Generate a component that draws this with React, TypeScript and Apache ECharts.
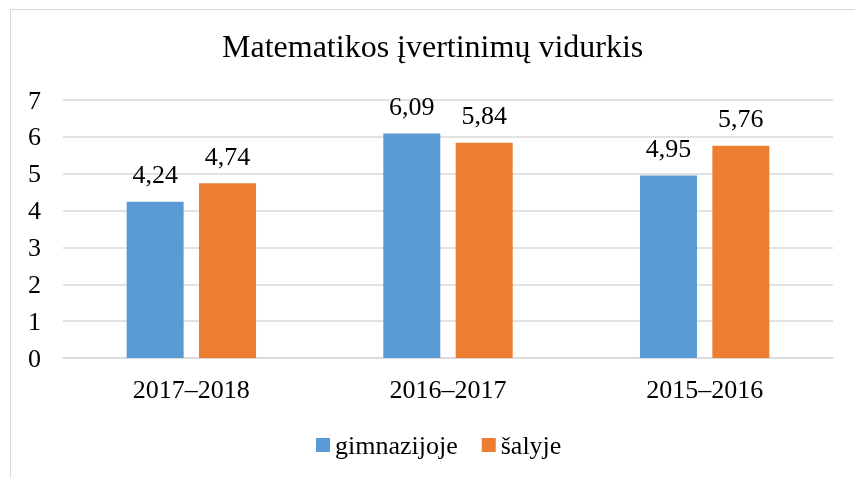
import React, { useEffect, useRef } from "react";
import * as echarts from "echarts";

const categories = ["2017–2018", "2016–2017", "2015–2016"];
const gimnazijoje = [4.24, 6.09, 4.95];
const salyje = [4.74, 5.84, 5.76];
const seriesNames = ["gimnazijoje", "šalyje"];
const titleText = "Matematikos įvertinimų vidurkis";

const FONT = "Liberation Serif";

export default function App() {
  const ref = useRef<HTMLDivElement>(null);
  useEffect(() => {
    if (!ref.current) return;
    const chart = echarts.init(ref.current, undefined, { renderer: "svg" });
    const fmt = (p: any) => Number(p.value).toFixed(2).replace(".", ",");
    const txt = { fontFamily: FONT, fontSize: 26, fontWeight: "normal", fontStyle: "normal", color: "#000" };
    chart.setOption({
      animation: false,
      textStyle: { fontFamily: FONT },
      title: {
        text: titleText,
        left: 222,
        top: 30,
        padding: 0,
        textStyle: { fontFamily: FONT, fontSize: 32, fontWeight: "normal", color: "#000" },
      },
      legend: {
        data: seriesNames,
        left: 316,
        top: 432,
        padding: 0,
        itemWidth: 14,
        itemHeight: 14,
        itemGap: 24,
        icon: "rect",
        textStyle: { ...txt },
      },
      grid: { left: 63, right: 22, top: 100, bottom: 120, containLabel: false },
      xAxis: {
        type: "category",
        data: categories,
        axisLine: { show: true, lineStyle: { color: "#d9d9d9", width: 1.5 } },
        axisTick: { show: false },
        axisLabel: { ...txt, margin: 18 },
      },
      yAxis: {
        type: "value",
        min: 0,
        max: 7,
        interval: 1,
        axisLine: { show: false },
        axisTick: { show: false },
        splitLine: { lineStyle: { color: "#d9d9d9", width: 1.5 } },
        axisLabel: { ...txt, margin: 22 },
      },
      series: [
        {
          name: seriesNames[0],
          type: "bar",
          data: gimnazijoje,
          barWidth: 57,
          barGap: "27%",
          itemStyle: { color: "#5B9BD5" },
          label: { show: true, position: "top", distance: 14, formatter: fmt, ...txt },
        },
        {
          name: seriesNames[1],
          type: "bar",
          data: salyje,
          barWidth: 57,
          barGap: "27%",
          itemStyle: { color: "#ED7D31" },
          label: { show: true, position: "top", distance: 14, formatter: fmt, ...txt },
        },
      ],
    });
    return () => chart.dispose();
  }, []);
  return (
    <div>
      <div
        style={{
          position: "fixed",
          left: 10,
          top: 9,
          width: 900,
          height: 500,
          borderLeft: "1.5px solid #d9d9d9",
          borderTop: "1.5px solid #d9d9d9",
        }}
      />
      <div ref={ref} style={{ position: "fixed", left: 0, top: 0, width: 855, height: 478 }} />
    </div>
  );
}
